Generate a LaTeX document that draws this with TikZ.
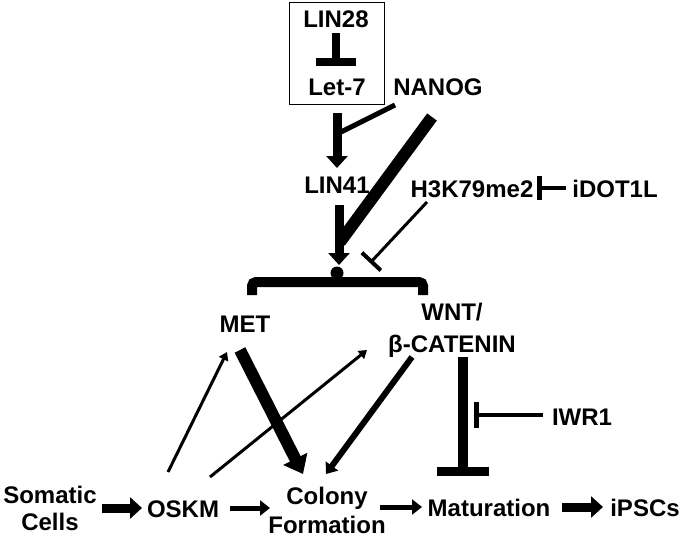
\documentclass[tikz,border=0pt]{standalone}
\usepackage{fontspec}
\setmainfont{Liberation Sans}
\usetikzlibrary{arrows.meta}

\begin{document}
\begin{tikzpicture}[x=1pt,y=-1pt,
    lbl/.style={font=\bfseries\fontsize{24}{29}\selectfont,inner sep=0pt,align=center},
    thinact/.style={line width=3pt,-{Triangle[length=8pt,width=10pt]}},
    midact/.style={line width=5pt,-{Triangle[length=10pt,width=15pt]}},
    fatact/.style={line width=9pt,-{Triangle[length=12pt,width=21pt]}},
    hugeact/.style={line width=12pt,-{Triangle[length=17pt,width=26pt]}},
    inhib/.style={-{Bar[width=#1]}}]
  \useasboundingbox (0,0) rectangle (683,539);

  % upstream regulators
  \node[draw,line width=1pt,minimum width=95pt,minimum height=102pt,inner sep=0pt] (box) at (336.5,53) {};
  \node[lbl,anchor=base] (lin28) at (336,27) {LIN28};
  \node[lbl,anchor=base] (let7) at (337,95) {Let-7};
  \node[lbl,anchor=base] (nanog) at (438,95) {NANOG};
  \node[lbl,anchor=base] (lin41) at (337,193) {LIN41};
  \node[lbl,anchor=base] (h3k) at (472,197) {H3K79me2};
  \node[lbl,anchor=base] (idot) at (615,197) {iDOT1L};
  \node[lbl,anchor=base] (met) at (245,332) {MET};
  \node[lbl,anchor=north] (wnt) at (452,303) {WNT/\\[3pt]β-CATENIN};
  \node[lbl,anchor=base] (iwr) at (582,425) {IWR1};

  % reprogramming steps
  \node[lbl,anchor=north] (somatic) at (50,486) {Somatic\\[-2pt]Cells};
  \node[lbl,anchor=base] (oskm) at (183,517) {OSKM};
  \node[lbl,anchor=north] (colony) at (327,487) {Colony\\[0pt]Formation};
  \node[lbl,anchor=base] (matur) at (489,516) {Maturation};
  \node[lbl,anchor=base] (ipsc) at (645,516) {iPSCs};

  % connector ends
  \coordinate (nanogA) at (395,105);
  \coordinate (shaft) at (339,133);
  \coordinate (nanogB) at (432,117);
  \coordinate (join) at (340,242);
  \coordinate (h3kA) at (427,202);
  \coordinate (h3kB) at (370,263);
  \coordinate (metA) at (168,472);
  \coordinate (metB) at (227,352);
  \coordinate (wntA) at (210,477);
  \coordinate (wntB) at (367,350);
  \coordinate (metC) at (240,350);
  \coordinate (colA) at (303,474);
  \coordinate (wntC) at (412,357);
  \coordinate (colB) at (326,474);
  \coordinate (wntD) at (463,357);
  \coordinate (matA) at (463,476);
  \coordinate (iwrA) at (543,415);
  \coordinate (iwrB) at (474,415);

  \draw[line width=8pt,inhib=40pt] (336,33) -- (336,66);
  \draw[fatact] (337,113) -- (lin41.north |- 0,168);
  \draw[line width=5pt] (nanogA) -- (shaft);
  \draw[line width=12pt] (nanogB) -- (join);
  \draw[fatact] (339,205) -- (339,265);
  \draw[line width=3pt,-{Bar[width=26pt,line width=4pt]}] (h3kA) -- (h3kB);
  \draw[line width=4pt,-{Bar[width=24pt,line width=5pt]}] (idot.west |- 0,188) ++(-6,0) -- ([xshift=3pt]h3k.east |- 0,188);

  % brace
  \draw[line width=10pt,rounded corners=4pt] (252,295) -- (252,282) -- (423,282) -- (423,295);
  \fill (337,273) circle (6.5pt);

  \draw[thinact] (metA) -- (metB);
  \draw[thinact] (wntA) -- (wntB);
  \draw[hugeact] (metC) -- (colA);
  \draw[midact,line width=6pt] (wntC) -- (colB);
  \draw[line width=10pt,-{Bar[width=52pt,line width=9pt]}] (wntD) -- (matA);
  \draw[line width=4pt,-{Bar[width=26pt,line width=5pt]}] (iwrA) -- (iwrB);

  \draw[fatact] (102,508) -- (142,508);
  \draw[midact] (230,508) -- (270,508);
  \draw[midact] (380,507) -- (422,507);
  \draw[fatact] (562,507) -- (603,507);
\end{tikzpicture}
\end{document}
